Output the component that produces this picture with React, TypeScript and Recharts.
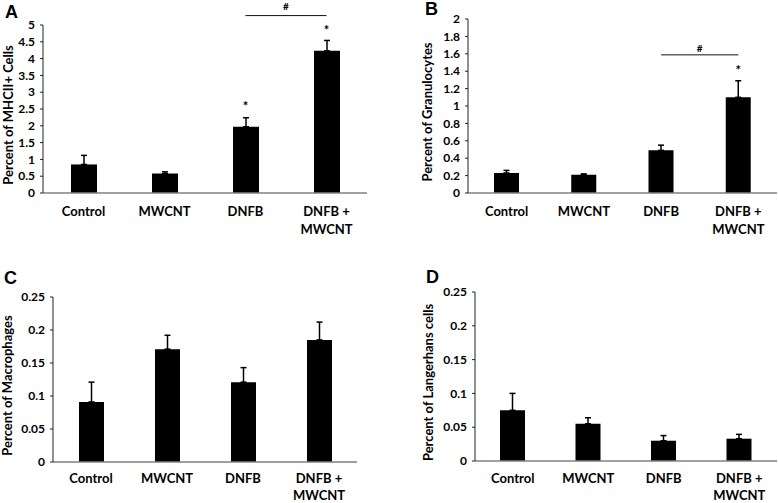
import React from 'react';
import {
  ComposedChart,
  Bar,
  XAxis,
  YAxis,
  ErrorBar,
  ReferenceDot,
  ReferenceLine,
} from 'recharts';

// ---------- data ----------
const categories = ['Control', 'MWCNT', 'DNFB', 'DNFB +\nMWCNT'];

const mhcValues = [0.85, 0.58, 1.97, 4.23];
const mhcErrors = [0.27, 0.05, 0.27, 0.31];
const mhcStars = [null, null, 2.65, 4.91];
const mhcTicks = [0, 0.5, 1, 1.5, 2, 2.5, 3, 3.5, 4, 4.5, 5];
const mhcHashLine = 5.28;

const granValues = [0.23, 0.21, 0.49, 1.1];
const granErrors = [0.03, 0.01, 0.06, 0.19];
const granStars = [null, null, null, 1.435];
const granTicks = [0, 0.2, 0.4, 0.6, 0.8, 1, 1.2, 1.4, 1.6, 1.8, 2];
const granHashLine = 1.588;

const macValues = [0.091, 0.171, 0.121, 0.185];
const macErrors = [0.03, 0.021, 0.022, 0.027];
const macStars = [null, null, null, null];
const smallTicks = [0, 0.05, 0.1, 0.15, 0.2, 0.25];

const langValues = [0.075, 0.055, 0.03, 0.033];
const langErrors = [0.025, 0.009, 0.0076, 0.0064];
const langStars = [null, null, null, null];

const FONT = 'Lato, "Open Sans", sans-serif';

function buildRows(values: number[], errors: number[]) {
  return categories.map((c, i) => ({ name: c, value: values[i], err: [0, errors[i]] }));
}

const XTick = (props: any) => {
  const { x, y, payload, baseline, lineGap } = props;
  const lines = String(payload.value).split('\n');
  return (
    <g>
      {lines.map((l: string, i: number) => (
        <text
          key={i}
          x={x}
          y={y + baseline + i * lineGap}
          textAnchor="middle"
          fontFamily={FONT}
          fontWeight={700}
          fontSize={13}
          fill="#000"
        >
          {l}
        </text>
      ))}
    </g>
  );
};

const StarShape = (props: any) => {
  const { cx, cy } = props;
  return (
    <text x={cx} y={cy + 7} textAnchor="middle" fontFamily={FONT} fontWeight={700} fontSize={13} fill="#000">
      *
    </text>
  );
};

type PanelProps = {
  left: number;
  top: number;
  width: number;
  height: number;
  yWidth: number;
  mTop: number;
  mRight: number;
  xHeight: number;
  xBaseline: number;
  lineGap: number;
  values: number[];
  errors: number[];
  stars: (number | null)[];
  ticks: number[];
  domainMax: number;
  yLabel: string;
  yLabelX: number;
  hashLine?: number;
  hashGap?: number;
  barSize: number;
};

function Panel(p: PanelProps) {
  const rows = buildRows(p.values, p.errors);
  const YLabel = () => {
    const cy = p.mTop + (p.height - p.mTop - p.xHeight) / 2 + 6;
    return (
      <text
        x={p.yLabelX}
        y={cy}
        transform={`rotate(-90, ${p.yLabelX}, ${cy})`}
        textAnchor="middle"
        dominantBaseline="central"
        fontFamily={FONT}
        fontWeight={700}
        fontSize={13}
        fill="#000"
      >
        {p.yLabel}
      </text>
    );
  };
  const HashLabel = (lp: any) => {
    const vb = lp.viewBox || {};
    return (
      <text
        x={vb.x + vb.width / 2}
        y={vb.y - (p.hashGap || 4)}
        textAnchor="middle"
        fontFamily={FONT}
        fontWeight={700}
        fontSize={10}
        fill="#000"
      >
        #
      </text>
    );
  };
  return (
    <div style={{ position: 'absolute', left: p.left, top: p.top }}>
      <ComposedChart
        width={p.width}
        height={p.height}
        data={rows}
        margin={{ top: p.mTop, right: p.mRight, left: 0, bottom: 0 }}
      >
        <XAxis
          dataKey="name"
          height={p.xHeight}
          tickSize={0}
          tickMargin={0}
          tickLine={false}
          axisLine={{ stroke: '#808080', strokeWidth: 1.5 }}
          tick={<XTick baseline={p.xBaseline} lineGap={p.lineGap} />}
          interval={0}
        />
        <YAxis
          width={p.yWidth}
          domain={[0, p.domainMax]}
          ticks={p.ticks}
          tickSize={3}
          tickMargin={5}
          axisLine={{ stroke: '#222', strokeWidth: 1 }}
          tickLine={{ stroke: '#222', strokeWidth: 1 }}
          tick={{ fontFamily: FONT, fontWeight: 700, fontSize: 12, fill: '#000' }}
          interval={0}
          label={{ content: YLabel }}
        />
        <Bar dataKey="value" fill="#000" barSize={p.barSize} isAnimationActive={false}>
          <ErrorBar dataKey="err" direction="y" width={3} stroke="#000" strokeWidth={1.5} isAnimationActive={false} />
        </Bar>
        {p.stars.map((s, i) =>
          s == null ? null : (
            <ReferenceDot key={'s' + i} x={categories[i]} y={s} r={0} ifOverflow="visible" shape={StarShape} />
          )
        )}
        {p.hashLine != null && (
          <ReferenceLine
            segment={[
              { x: categories[2], y: p.hashLine },
              { x: categories[3], y: p.hashLine },
            ]}
            ifOverflow="visible"
            stroke="#111"
            strokeWidth={1}
            label={{ content: HashLabel }}
          />
        )}
      </ComposedChart>
    </div>
  );
}

export default function App() {
  return (
    <div
      style={{
        position: 'absolute',
        left: 0,
        top: 0,
        width: 778,
        height: 503,
        background: '#fff',
        overflow: 'hidden',
      }}
    >
      <Panel
        left={0}
        top={0}
        width={380}
        height={250}
        yWidth={43}
        mTop={25}
        mRight={13}
        xHeight={57}
        xBaseline={23}
        lineGap={18}
        values={mhcValues}
        errors={mhcErrors}
        stars={mhcStars}
        ticks={mhcTicks}
        domainMax={5}
        yLabel="Percent of MHCII+ Cells"
        yLabelX={8}
        hashLine={mhcHashLine}
        hashGap={6}
        barSize={26}
      />
      <Panel
        left={380}
        top={0}
        width={398}
        height={250}
        yWidth={88}
        mTop={19}
        mRight={1}
        xHeight={57}
        xBaseline={23}
        lineGap={18}
        values={granValues}
        errors={granErrors}
        stars={granStars}
        ticks={granTicks}
        domainMax={2}
        yLabel="Percent of Granulocytes"
        yLabelX={47}
        hashLine={granHashLine}
        hashGap={3}
        barSize={25}
      />
      <Panel
        left={0}
        top={250}
        width={380}
        height={253}
        yWidth={53}
        mTop={47}
        mRight={23}
        xHeight={41}
        xBaseline={21}
        lineGap={17}
        values={macValues}
        errors={macErrors}
        stars={macStars}
        ticks={smallTicks}
        domainMax={0.25}
        yLabel="Percent of Macrophages"
        yLabelX={7}
        barSize={25}
      />
      <Panel
        left={380}
        top={250}
        width={398}
        height={253}
        yWidth={95}
        mTop={42}
        mRight={1}
        xHeight={42}
        xBaseline={22}
        lineGap={17}
        values={langValues}
        errors={langErrors}
        stars={langStars}
        ticks={smallTicks}
        domainMax={0.25}
        yLabel="Percent of Langerhans cells"
        yLabelX={48}
        barSize={25}
      />
      <svg
        width={778}
        height={503}
        style={{ position: 'absolute', left: 0, top: 0, pointerEvents: 'none' }}
      >
        <text x={5} y={18} fontFamily="'Liberation Sans', Arial, sans-serif" fontWeight={700} fontSize={18} fill="#000">
          A
        </text>
        <text x={425} y={15} fontFamily="'Liberation Sans', Arial, sans-serif" fontWeight={700} fontSize={18} fill="#000">
          B
        </text>
        <text x={4} y={284} fontFamily="'Liberation Sans', Arial, sans-serif" fontWeight={700} fontSize={18} fill="#000">
          C
        </text>
        <text x={426} y={283} fontFamily="'Liberation Sans', Arial, sans-serif" fontWeight={700} fontSize={18} fill="#000">
          D
        </text>
      </svg>
    </div>
  );
}
